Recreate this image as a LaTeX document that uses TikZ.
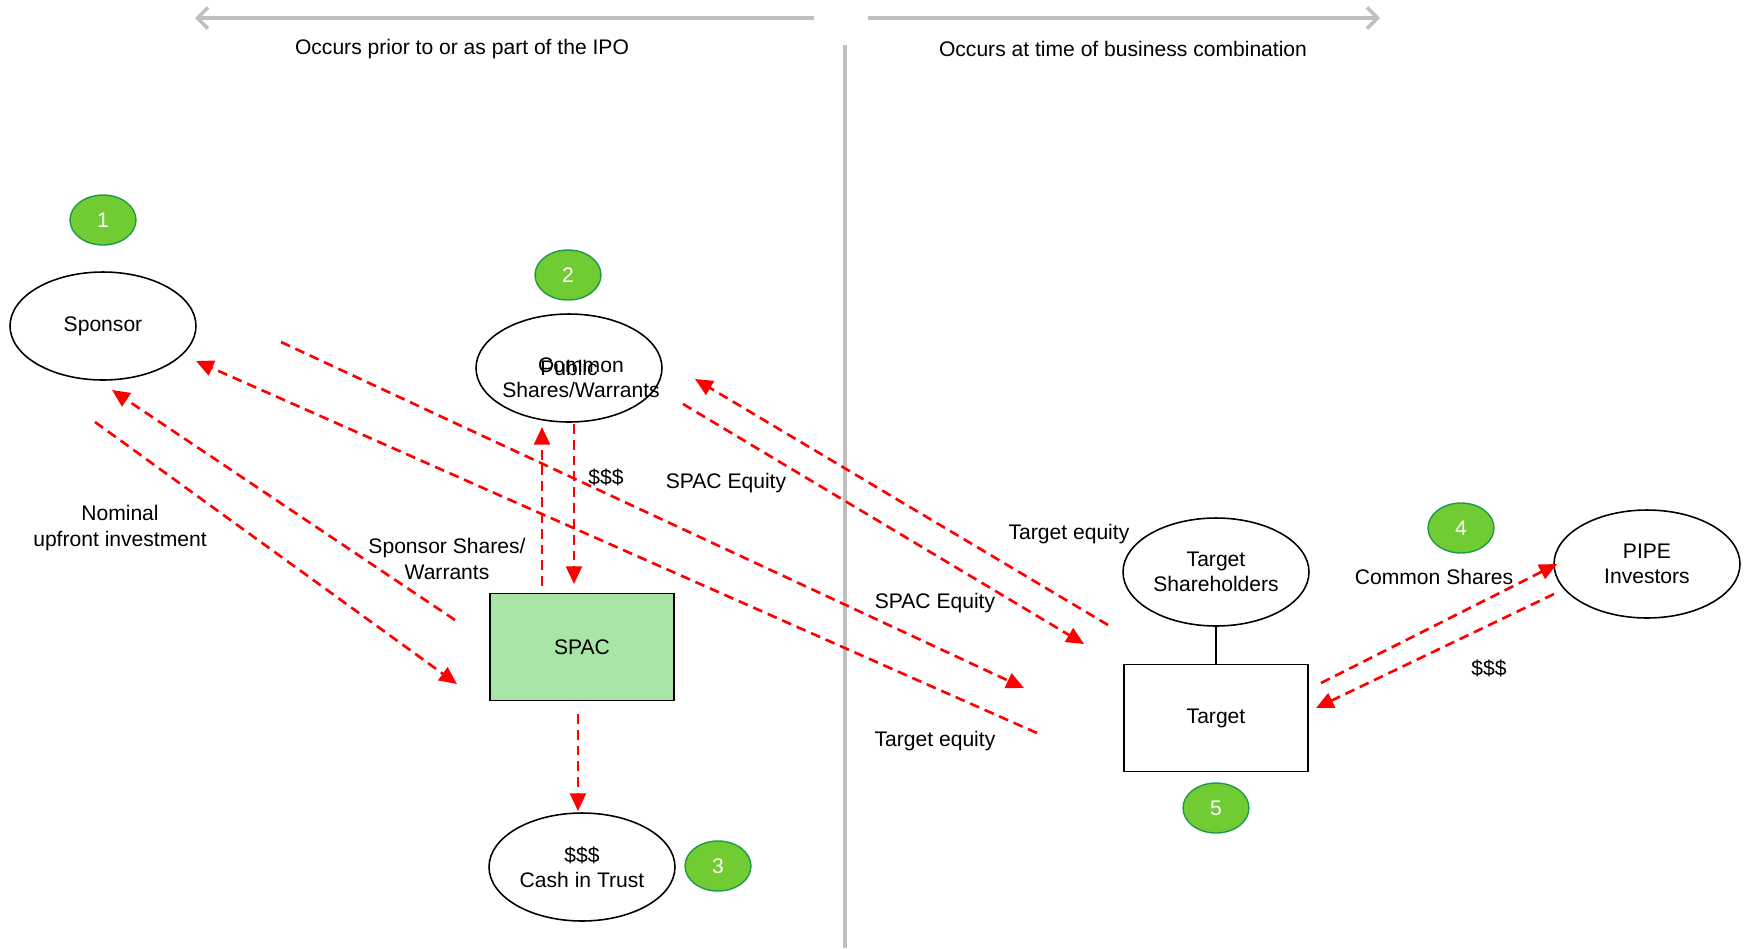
\documentclass[tikz,border=0pt]{standalone}
\usepackage{fontspec}
\setmainfont{Liberation Sans}
\usetikzlibrary{arrows.meta,shapes.geometric}
\definecolor{stepgreen}{HTML}{70CC32}
\definecolor{stepedge}{HTML}{1F9A4C}
\definecolor{spacgreen}{HTML}{A9E5A7}
\definecolor{rulegray}{HTML}{BFBFBF}
\tikzset{
  party/.style={draw, ellipse, line width=0.9pt, minimum width=3.72cm, minimum height=2.16cm, align=center, inner sep=0pt},
  entity/.style={draw, rectangle, line width=0.9pt, minimum width=3.68cm, minimum height=2.14cm, align=center},
  stepnum/.style={draw=stepedge, fill=stepgreen, ellipse, line width=0.8pt, minimum width=1.32cm, minimum height=1cm, text=white, inner sep=0pt},
  flow/.style={red, line width=1.5pt, dash pattern=on 5.6pt off 3.4pt, -{Triangle[length=10pt,width=9pt]}},
  phase/.style={rulegray, line width=2pt, -{Straight Barb[length=6pt,width=12pt]}},
  lbl/.style={align=center, inner sep=1pt}
}
\begin{document}
\begin{tikzpicture}[x=0.02cm, y=-0.02cm, font=\fontsize{12}{14.4}\selectfont]
\useasboundingbox (0,0) rectangle (1749,948);
% time line
\coordinate (ipoR) at (814,18); \coordinate (ipoL) at (195,18);
\coordinate (busL) at (868,18); \coordinate (busR) at (1380,18);
\coordinate (divT) at (845,45); \coordinate (divB) at (845,948);
\draw[phase] (ipoR) -- (ipoL);
\draw[phase] (busL) -- (busR);
\draw[rulegray, line width=1.8pt] (divT) -- (divB);
\node (ipo) at (462,49) {Occurs prior to or as part of the IPO};
\node (bus) at (1123,49) {Occurs at time of business combination};

% parties
\node[party] (sponsor) at (103,326) {Sponsor};
\node[party] (public) at (569,368) {Public};
\node[lbl] (pubtxt) at (581,378) {Common\\Shares/Warrants};
\node[entity, fill=spacgreen] (spac) at (582,647) {SPAC};
\node[party] (trust) at (582,867) {\$\$\$\\Cash in Trust};
\node[party] (tsh) at (1216,572) {Target\\Shareholders};
\node[entity] (target) at (1216,718) {Target};
\node[party] (pipe) at (1647,564) {PIPE\\Investors};
\draw[line width=0.9pt] (tsh) -- (target);

% steps
\node[stepnum] (s1) at (103,220) {1};
\node[stepnum] (s2) at (568,275) {2};
\node[stepnum] (s3) at (718,866) {3};
\node[stepnum] (s4) at (1461,528) {4};
\node[stepnum] (s5) at (1216,808) {5};

% flows
\coordinate (nomA) at (95,422);   \coordinate (nomB) at (457,684);
\coordinate (sswA) at (455,620);  \coordinate (sswB) at (112,390);
\coordinate (teqA) at (1037,733); \coordinate (teqB) at (196,361);
\coordinate (seqA) at (281,342);  \coordinate (seqB) at (1024,688);
\coordinate (pubA) at (542,586);  \coordinate (pubB) at (542,427);
\coordinate (cashA) at (574,424); \coordinate (cashB) at (574,584);
\coordinate (pseA) at (683,404);  \coordinate (pseB) at (1084,644);
\coordinate (pteA) at (1108,625); \coordinate (pteB) at (695,379);
\coordinate (csA) at (1321,683);  \coordinate (csB) at (1557,564);
\coordinate (pipA) at (1554,594); \coordinate (pipB) at (1316,708);
\coordinate (trA) at (578,714);   \coordinate (trB) at (578,811);
\draw[flow] (nomA) -- (nomB);
\draw[flow] (sswA) -- (sswB);
\draw[flow] (teqA) -- (teqB);
\draw[flow] (seqA) -- (seqB);
\draw[flow] (pubA) -- (pubB);
\draw[flow] (cashA) -- (cashB);
\draw[flow] (pseA) -- (pseB);
\draw[flow] (pteA) -- (pteB);
\draw[flow] (csA) -- (csB);
\draw[flow] (pipA) -- (pipB);
\draw[flow] (trA) -- (trB);

% labels
\node[lbl] (nom) at (120,528) {Nominal\\upfront investment};
\node[lbl] (ssw) at (447,559) {Sponsor Shares/\\Warrants};
\node[lbl] (teq) at (935,741) {Target equity};
\node[lbl] (seq) at (935,603) {SPAC Equity};
\node[lbl] (cash) at (606,477) {\$\$\$};
\node[lbl] (pse) at (726,483) {SPAC Equity};
\node[lbl] (pte) at (1069,534) {Target equity};
\node[lbl] (cs) at (1434,577) {Common Shares};
\node[lbl] (pip) at (1489,668) {\$\$\$};
\end{tikzpicture}
\end{document}
